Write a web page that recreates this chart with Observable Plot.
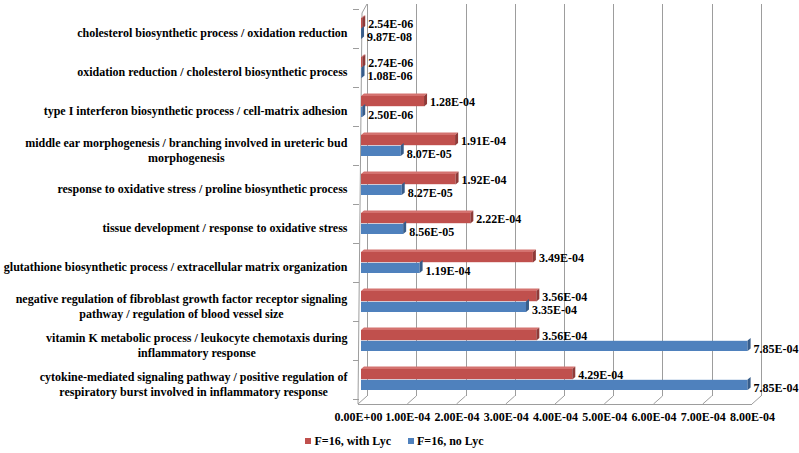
<!DOCTYPE html>
<html>
<head>
<meta charset="utf-8">
<script src="https://cdn.jsdelivr.net/npm/d3@7"></script>
<script src="https://cdn.jsdelivr.net/npm/@observablehq/plot@0.6"></script>
<style>
  html, body { margin: 0; padding: 0; background: #fff; }
  #legend { height: 25px; display: flex; justify-content: center; align-items: center; gap: 17px;
            padding-right: 10px; padding-top: 2px; box-sizing: border-box;
            font: bold 12px "Liberation Serif", "Times New Roman", serif; color: #000; }
  #legend i { display: inline-block; width: 6px; height: 6px; margin-right: 3px; vertical-align: 1px; }
</style>
</head>
<body>
<div id="chart"></div>
<div id="legend"></div>
<script>
// ---- data ----
const categories = [
  "cholesterol biosynthetic process / oxidation reduction",
  "oxidation reduction / cholesterol biosynthetic process",
  "type I interferon biosynthetic process / cell-matrix adhesion",
  "middle ear morphogenesis / branching involved in ureteric bud\nmorphogenesis",
  "response to oxidative stress / proline biosynthetic process",
  "tissue development / response to oxidative stress",
  "glutathione biosynthetic process / extracellular matrix organization",
  "negative regulation of fibroblast growth factor receptor signaling\npathway / regulation of blood vessel size",
  "vitamin K metabolic process / leukocyte chemotaxis during\ninflammatory response",
  "cytokine-mediated signaling pathway / positive regulation of\nrespiratory burst involved in inflammatory response"
];
const withLyc = [2.54e-6, 2.74e-6, 1.28e-4, 1.91e-4, 1.92e-4, 2.22e-4, 3.49e-4, 3.56e-4, 3.56e-4, 4.29e-4];
const noLyc   = [9.87e-8, 1.08e-6, 2.50e-6, 8.07e-5, 8.27e-5, 8.56e-5, 1.19e-4, 3.35e-4, 7.85e-4, 7.85e-4];
const xTicks = [0, 1e-4, 2e-4, 3e-4, 4e-4, 5e-4, 6e-4, 7e-4, 8e-4];
const seriesNames = ["F=16, with Lyc", "F=16, no Lyc"];
const seriesColors = ["#c0504d", "#4f81bd"];
const capColors = ["#8f3a38", "#385d8a"];
const topColors = ["#d4726f", "#7ea2cf"];

// ---- helpers ----
function fmt(v) {
  const [m, e] = v.toExponential(2).split("e");
  const n = Math.abs(+e);
  return m + "E" + (+e < 0 ? "-" : "+") + String(n).padStart(2, "0");
}
const FONT = '"Liberation Serif", "Times New Roman", serif';
const W = 799, H = 428, ML = 361, MR = 44, MT = 6, MB = 26;
const rowsRed = categories.map((c, i) => ({cat: c, s: 0, value: withLyc[i]}));
const rowsBlue = categories.map((c, i) => ({cat: c, s: 1, value: noLyc[i]}));
const rows = rowsRed.concat(rowsBlue);

const ctx = document.createElement("canvas").getContext("2d");
ctx.font = "bold 12px " + FONT;
const labelRight = 347;
const labelMarks = categories.map(c => {
  const maxW = d3.max(c.split("\n"), l => ctx.measureText(l).width);
  return Plot.text([c], {
    y: d => d, text: d => d, frameAnchor: "left", textAnchor: "middle", lineAnchor: "middle",
    lineHeight: 1.25, dx: -(ML - labelRight) - maxW / 2, dy: 3.5, fill: "#000"
  });
});

function bw(Y) { return typeof Y.bandwidth === "function" ? Y.bandwidth() : Y.bandwidth; }
const IN_OUT = 9;

// back wall gridlines, left wall and floor
function walls(index, scales, values, dims) {
  const X = scales.x, Y = scales.y;
  const yTop = dims.marginTop, yBot = dims.height - dims.marginBottom;
  const g = d3.create("svg:g").attr("fill", "none").attr("stroke", "#9d9d9d").attr("stroke-width", 1);
  for (const t of xTicks) {
    const x = Math.round(X(t) + 6) + 0.5;
    g.append("line").attr("x1", x).attr("x2", x).attr("y1", yTop - 2).attr("y2", yBot - 6);
    g.append("line").attr("x1", X(t) - 3).attr("y1", yBot + 2).attr("x2", X(t) + 6).attr("y2", yBot - 6);
  }
  const x0 = X(0);
  g.append("line").attr("x1", x0 - 3).attr("x2", X(xTicks[xTicks.length - 1]) - 3)
    .attr("y1", yBot + 2.5).attr("y2", yBot + 2.5);
  g.append("path").attr("d", `M${x0 - 3},${yBot + 2}L${x0 + 1},${yTop + 7}L${x0 + 6},${yTop - 2}`);
  const b = bw(Y);
  const bounds = categories.map(c => Y(c)).concat([Y(categories[categories.length - 1]) + b]);
  for (const yb of bounds) {
    const y = Math.round(yb) + 0.5;
    g.append("line").attr("x1", x0 - 8).attr("x2", x0 - 2).attr("y1", y).attr("y2", y);
  }
  return g.node();
}

// 3D end caps and top faces
function caps(index, scales, values, dims) {
  const X = scales.x, Y = scales.y, b = bw(Y);
  const g = d3.create("svg:g");
  for (const r of rows) {
    const y0 = Y(r.cat);
    const top = r.s === 0 ? y0 + IN_OUT : y0 + b / 2;
    const bot = r.s === 0 ? y0 + b / 2 : y0 + b - IN_OUT;
    const xs = X(0), xe = X(r.value);
    if (r.s === 0) {
      g.append("path").attr("fill", topColors[0])
        .attr("d", `M${xs},${top}L${xe},${top}L${xe + 3},${top - 2.5}L${xs + 3},${top - 2.5}Z`);
    }
    g.append("path").attr("fill", capColors[r.s])
      .attr("d", `M${xe},${top}L${xe + 3},${top - 2.5}L${xe + 3},${bot - 2.5}L${xe},${bot}Z`);
  }
  return g.node();
}

const chart = Plot.plot({
  width: W, height: H,
  marginLeft: ML, marginRight: MR, marginTop: MT, marginBottom: MB,
  style: {fontFamily: FONT, fontSize: "12px", fontWeight: "bold", color: "#000", background: "#fff", overflow: "visible"},
  x: {domain: [0, 8e-4], axis: null},
  y: {type: "band", domain: categories, padding: 0, axis: null},
  marks: [
    walls,
    Plot.barX(rowsRed, {x1: 0, x2: "value", y: "cat", fill: seriesColors[0], insetTop: IN_OUT, insetBottom: 19.8}),
    Plot.barX(rowsBlue, {x1: 0, x2: "value", y: "cat", fill: seriesColors[1], insetTop: 19.8, insetBottom: IN_OUT}),
    caps,
    Plot.text(rowsRed, {x: "value", y: "cat", text: d => fmt(d.value), textAnchor: "start", dx: 5.5, dy: -4.5, fill: "#000"}),
    Plot.text(rowsBlue, {x: "value", y: "cat", text: d => fmt(d.value), textAnchor: "start", dx: 5.5, dy: 8, fill: "#000"}),
    Plot.text(xTicks, {x: d => d, frameAnchor: "bottom", text: d => fmt(d), dx: -3, dy: 15, lineAnchor: "middle", fill: "#000"}),
    ...labelMarks
  ]
});
document.getElementById("chart").appendChild(chart);

const legend = document.getElementById("legend");
seriesNames.forEach((name, i) => {
  const span = document.createElement("span");
  const sw = document.createElement("i");
  sw.style.background = seriesColors[i];
  span.appendChild(sw);
  span.appendChild(document.createTextNode(name));
  legend.appendChild(span);
});
</script>
</body>
</html>
